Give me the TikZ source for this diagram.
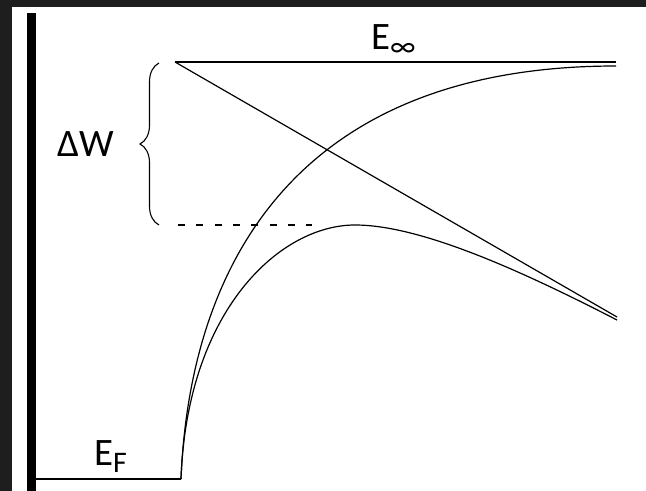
\documentclass[tikz,border=0pt]{standalone}
\usepackage{fontspec}
\setmainfont{Carlito}
\usetikzlibrary{decorations.pathreplacing}
\definecolor{framegray}{HTML}{1E1E1E}
\newcommand{\lowsub}[1]{\raisebox{-7bp}{\fontsize{30}{30}\selectfont #1}}

\begin{document}
\begin{tikzpicture}[x=1bp, y=-1bp,
  every node/.style={font=\fontsize{39}{40}\selectfont, inner sep=0pt},
  lvl/.style={line width=1.3bp, draw=black},
  crv/.style={line width=1.2bp, draw=black},
  dsh/.style={line width=1.2bp, draw=black, dash pattern=on 7bp off 11.3bp},
  brc/.style={decorate, decoration={brace, amplitude=19bp}, line width=1.1bp}
]
  % frame and metal
  \fill[framegray] (0,0) rectangle (646,491);
  \fill[white] (12,7) rectangle (646,491);
  \fill[black] (27,13) rectangle (36,491);

  % end points
  \coordinate (ef0)   at (36,479);
  \coordinate (ef1)   at (181,479);
  \coordinate (vac0)  at (175,62);
  \coordinate (vac1)  at (616,62);
  \coordinate (img1)  at (616,66);
  \coordinate (fld1)  at (617,317);
  \coordinate (sum1)  at (617,320);
  \coordinate (peak)  at (355,225);
  \coordinate (brc0)  at (159,225);
  \coordinate (brc1)  at (159,63);
  \coordinate (dsh0)  at (178,225);
  \coordinate (dsh1)  at (312,225);

  % levels
  \draw[lvl] (ef0) -- (ef1);
  \draw[lvl] (vac0) -- (vac1);
  \draw[crv] (vac0) -- (fld1);

  % image potential and total barrier
  \draw[crv] (ef1) .. controls (190,260) and (300,66) .. (img1);
  \draw[crv] (ef1) .. controls (187,310) and (280,225) .. (peak)
                   .. controls (420,225) and (520,270) .. (sum1);

  % barrier height
  \draw[dsh] (dsh0) -- (dsh1);
  \draw[brc] (brc0) -- (brc1);

  \node[anchor=base west] (einf) at (371,50)  {E\lowsub{∞}};
  \node[anchor=base west] (dw)   at (57,157)  {ΔW};
  \node[anchor=base west] (ef)   at (94,465)  {E\lowsub{F}};
\end{tikzpicture}
\end{document}
